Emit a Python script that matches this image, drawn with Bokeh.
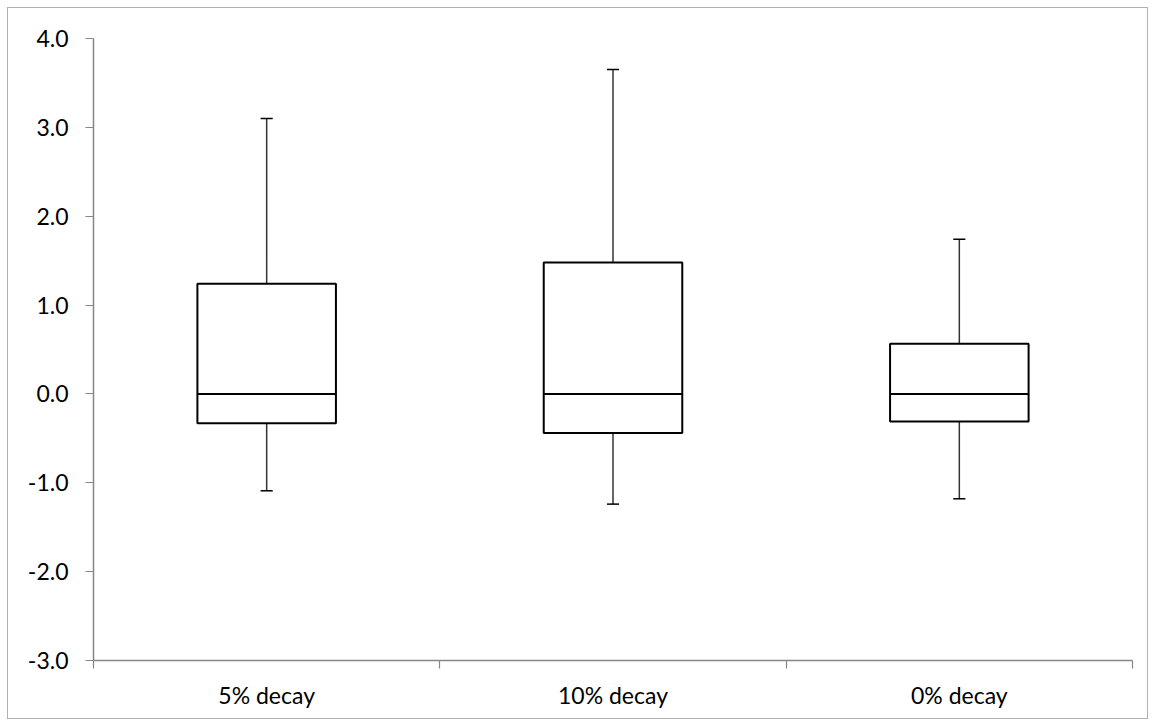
from bokeh.plotting import figure
from bokeh.models import FixedTicker, NumeralTickFormatter, Range1d
from bokeh.embed import file_html
from bokeh.resources import INLINE

categories = ["5% decay", "10% decay", "0% decay"]
whisker_low = [-1.09, -1.24, -1.18]
q1 = [-0.33, -0.44, -0.31]
median = [0.0, 0.0, 0.0]
q3 = [1.24, 1.48, 0.565]
whisker_high = [3.10, 3.65, 1.74]
y_ticks = [-3.0, -2.0, -1.0, 0.0, 1.0, 2.0, 3.0, 4.0]

xs = [i + 0.5 for i in range(len(categories))]
box_w = 0.4
cap_w = 0.035

p = figure(width=1141, height=712, output_backend="svg", toolbar_location=None,
           x_range=Range1d(0, len(categories)), y_range=Range1d(-3, 4),
           min_border_left=85, min_border_right=17, min_border_top=30, min_border_bottom=60)
p.styles = {"border": "1px solid #b0b0b0", "margin": "7px 0 0 7px"}
p.outline_line_color = None
p.grid.visible = False
p.background_fill_color = "white"
p.border_fill_color = "white"

font = "Lato"
axis_col = "#868686"

p.xaxis.ticker = FixedTicker(ticks=xs, minor_ticks=list(range(len(categories) + 1)))
p.xaxis.major_label_overrides = {x: c for x, c in zip(xs, categories)}
p.xaxis.major_tick_out = 0
p.xaxis.major_tick_in = 0
p.xaxis.minor_tick_out = 8
p.xaxis.minor_tick_in = 0
p.xaxis.minor_tick_line_color = axis_col
p.xaxis.major_label_standoff = 12

p.yaxis.ticker = FixedTicker(ticks=y_ticks, minor_ticks=[])
p.yaxis.formatter = NumeralTickFormatter(format="0.0")
p.yaxis.major_tick_out = 8
p.yaxis.major_tick_in = 0
p.yaxis.minor_tick_out = 0
p.yaxis.minor_tick_in = 0
p.yaxis.major_label_standoff = 17

for ax in (p.xaxis, p.yaxis):
    ax.axis_line_color = axis_col
    ax.axis_line_width = 1.5
    ax.major_tick_line_color = axis_col
    ax.major_tick_line_width = 1.2
    ax.minor_tick_line_width = 1.2
    ax.major_label_text_font = font
    ax.major_label_text_font_size = "23px"
    ax.major_label_text_color = "#000000"

wcol = "#333333"
# whiskers
p.segment(x0=xs, y0=q3, x1=xs, y1=whisker_high, line_color=wcol, line_width=1.5)
p.segment(x0=xs, y0=q1, x1=xs, y1=whisker_low, line_color=wcol, line_width=1.5)
p.segment(x0=[x - cap_w / 2 for x in xs], y0=whisker_high, x1=[x + cap_w / 2 for x in xs],
          y1=whisker_high, line_color="#000000", line_width=1.5)
p.segment(x0=[x - cap_w / 2 for x in xs], y0=whisker_low, x1=[x + cap_w / 2 for x in xs],
          y1=whisker_low, line_color="#000000", line_width=1.5)
# boxes
p.quad(left=[x - box_w / 2 for x in xs], right=[x + box_w / 2 for x in xs],
       bottom=q1, top=q3, fill_color="white", line_color="#000000", line_width=2)
p.segment(x0=[x - box_w / 2 for x in xs], y0=median, x1=[x + box_w / 2 for x in xs],
          y1=median, line_color="#000000", line_width=2)

open("out.html", "w").write(file_html(p, INLINE))
